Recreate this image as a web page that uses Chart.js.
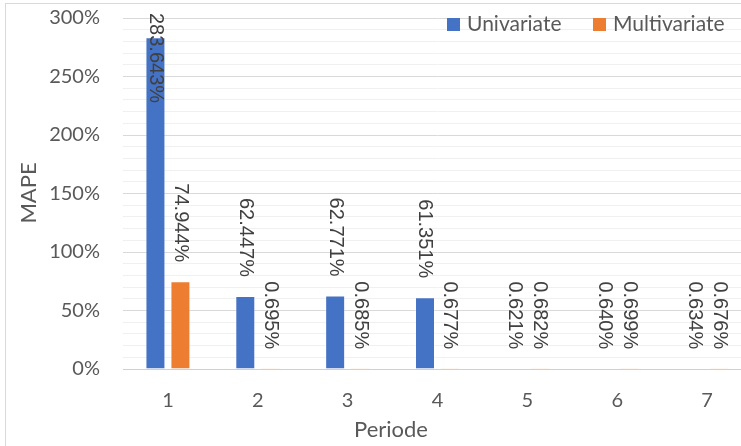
<!DOCTYPE html>
<html>
<head>
<meta charset="utf-8">
<script src="https://cdn.jsdelivr.net/npm/chart.js@4/dist/chart.umd.min.js"></script>
<style>
  html, body { margin: 0; padding: 0; background: #ffffff; overflow: hidden; }
  #wrap { width: 760px; height: 446px; }
</style>
</head>
<body>
<div id="wrap"><canvas id="c" width="760" height="446"></canvas></div>
<script>
// Periods and MAPE (%) per model
const periods = ['1', '2', '3', '4', '5', '6', '7'];
const univariate = [283.643, 62.447, 62.771, 61.351, 0.621, 0.640, 0.634];
const multivariate = [74.944, 0.695, 0.685, 0.677, 0.682, 0.699, 0.676];
const seriesNames = ['Univariate', 'Multivariate'];
const yTickValues = [0, 50, 100, 150, 200, 250, 300];

const BLUE = '#4472C4';
const ORANGE = '#ED7D31';
const TEXT = '#595959';
const AXIS_FONT = 'Lato, "Open Sans", sans-serif';

// Rotated value labels, chart frame, axis titles and legend
const decorations = {
  id: 'decorations',
  afterDatasetsDraw(chart) {
    const ctx = chart.ctx;
    const area = chart.chartArea;
    ctx.save();
    ctx.font = '20px "Liberation Sans", Arial, sans-serif';
    ctx.fillStyle = '#404040';
    ctx.textBaseline = 'middle';
    chart.data.datasets.forEach((ds, di) => {
      const meta = chart.getDatasetMeta(di);
      meta.data.forEach((bar, i) => {
        const text = ds.data[i].toFixed(3) + '%';
        const w = ctx.measureText(text).width;
        let end = bar.y - 19;
        if (end - w < area.top - 5) end = area.top - 5 + w;
        ctx.save();
        ctx.translate(bar.x, end);
        ctx.rotate(Math.PI / 2);
        ctx.textAlign = 'right';
        ctx.fillText(text, 0, 0);
        ctx.restore();
      });
    });

    // legend
    ctx.font = '21px ' + AXIS_FONT;
    ctx.textAlign = 'left';
    ctx.textBaseline = 'alphabetic';
    const entries = [
      { x: 447, color: BLUE, name: seriesNames[0] },
      { x: 593, color: ORANGE, name: seriesNames[1] }
    ];
    entries.forEach(e => {
      ctx.fillStyle = e.color;
      ctx.fillRect(e.x, 18, 13, 13);
      ctx.fillStyle = TEXT;
      ctx.fillText(e.name, e.x + 20, 31);
    });

    // axis titles
    ctx.font = '22px ' + AXIS_FONT;
    ctx.fillStyle = TEXT;
    ctx.textAlign = 'center';
    ctx.textBaseline = 'middle';
    ctx.fillText('Periode', 391, 430);
    ctx.save();
    ctx.translate(29, 193);
    ctx.rotate(-Math.PI / 2);
    ctx.fillText('MAPE', 0, 0);
    ctx.restore();

    // outer frame
    ctx.strokeStyle = '#d9d9d9';
    ctx.lineWidth = 1;
    ctx.strokeRect(5.5, 3.5, 900, 900);
    ctx.restore();
  }
};

new Chart(document.getElementById('c'), {
  type: 'bar',
  data: {
    labels: periods,
    datasets: [
      { label: seriesNames[0], data: univariate, backgroundColor: BLUE,
        borderColor: 'rgba(255,255,255,0.35)', borderWidth: 1,
        categoryPercentage: 0.556, barPercentage: 0.8 },
      { label: seriesNames[1], data: multivariate, backgroundColor: ORANGE,
        borderColor: 'rgba(255,255,255,0.35)', borderWidth: 1,
        categoryPercentage: 0.556, barPercentage: 0.8 }
    ]
  },
  options: {
    responsive: false,
    animation: false,
    devicePixelRatio: 1,
    layout: { padding: { left: 0, right: 8, top: 18, bottom: 0 } },
    plugins: { legend: { display: false }, tooltip: { enabled: false } },
    scales: {
      x: {
        grid: { display: false, drawTicks: false },
        border: { display: true, color: '#d0d0d0', width: 1 },
        ticks: { color: TEXT, font: { family: AXIS_FONT, size: 20 }, padding: 20, maxRotation: 0 },
        afterFit(scale) { scale.height = 77; scale.paddingLeft = 0; scale.paddingRight = 0; }
      },
      y: {
        min: 0,
        max: 300,
        afterBuildTicks(scale) {
          const t = [];
          for (let v = 0; v <= 300; v += 10) t.push({ value: v });
          scale.ticks = t;
        },
        grid: {
          drawTicks: false,
          color: c => (c.tick && c.tick.value % 50 === 0) ? '#d9d9d9' : '#f0f0f0',
          lineWidth: 1
        },
        border: { display: false },
        ticks: {
          autoSkip: false,
          color: TEXT,
          font: { family: AXIS_FONT, size: 20 },
          padding: 23,
          callback: v => yTickValues.includes(v) ? v + '%' : ''
        },
        afterFit(scale) { scale.width = 123; scale.paddingTop = 0; scale.paddingBottom = 0; }
      }
    }
  },
  plugins: [decorations]
});
</script>
</body>
</html>
